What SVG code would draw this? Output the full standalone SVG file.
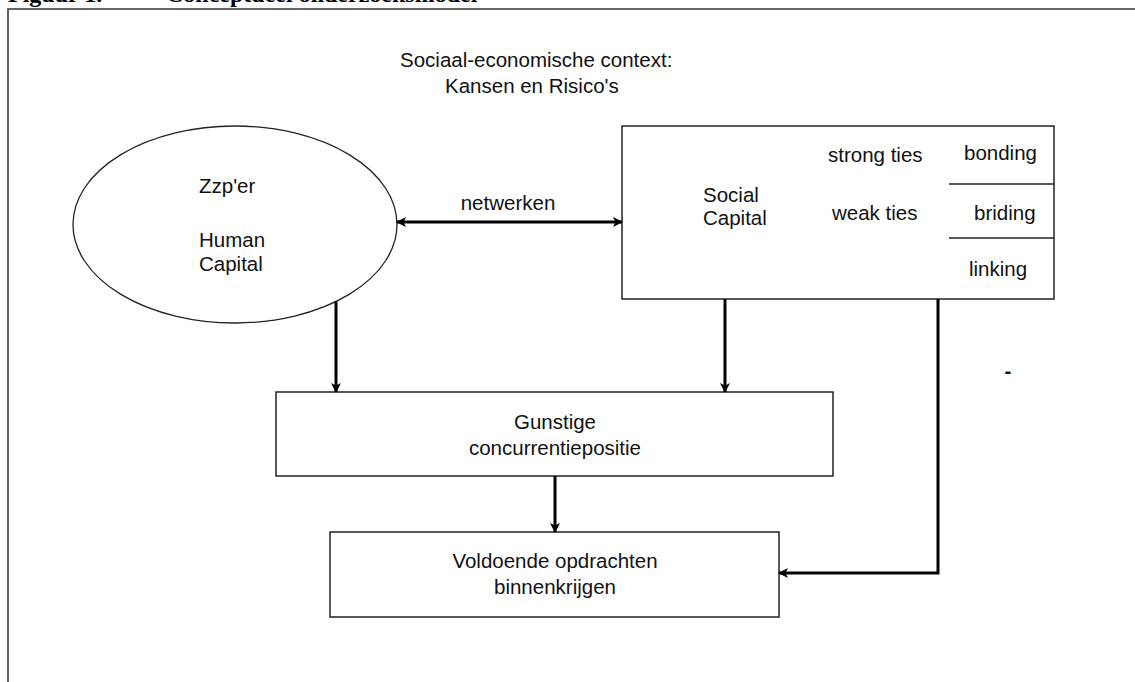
<svg xmlns="http://www.w3.org/2000/svg" width="1135" height="682" viewBox="0 0 1135 682">
<style>
.t{font-family:"Liberation Sans",Arial,sans-serif;font-size:20.5px;fill:#111}
.title{font-family:"Liberation Serif","Times New Roman",serif;font-size:24px;font-weight:bold;fill:#000}
.box{fill:#fff;stroke:#222;stroke-width:1.5}
.frame{fill:none;stroke:#333;stroke-width:1.5}
.con{fill:none;stroke:#000;stroke-width:3}
</style>
<defs>
<marker id="ah" viewBox="0 0 10 10" refX="9" refY="5" markerWidth="10" markerHeight="10" markerUnits="userSpaceOnUse" orient="auto-start-reverse">
<path d="M0,0 L10,5 L0,10 L2.5,5 z" fill="#000"/>
</marker>
</defs>
<rect width="1135" height="682" fill="#fff"/>
<text class="title" x="8" y="2">Figuur 1.<tspan x="166">Conceptueel onderzoeksmodel</tspan></text>
<path class="frame" d="M8,682 L8,9 L1135,9"/>
<g id="context">
<text class="t" x="400" y="67">Sociaal-economische context:</text>
<text class="t" x="445" y="93">Kansen en Risico's</text>
</g>
<g id="zzper">
<ellipse class="box" cx="235" cy="224.5" rx="162" ry="98.5" style="stroke-width:1.3"/>
<text class="t" x="199" y="193">Zzp'er</text>
<text class="t" x="199" y="247">Human</text>
<text class="t" x="199" y="271">Capital</text>
</g>
<g id="social">
<rect class="box" x="622" y="126" width="432" height="173"/>
<line x1="949" y1="184" x2="1054" y2="184" stroke="#222" stroke-width="1.5"/>
<line x1="949" y1="238" x2="1054" y2="238" stroke="#222" stroke-width="1.5"/>
<text class="t" x="703" y="202">Social</text>
<text class="t" x="703" y="225">Capital</text>
<text class="t" x="828" y="162">strong ties</text>
<text class="t" x="832" y="220">weak ties</text>
<text class="t" x="964" y="160">bonding</text>
<text class="t" x="974" y="220">briding</text>
<text class="t" x="969" y="276">linking</text>
</g>
<g id="gunstig">
<rect class="box" x="276" y="392" width="557" height="84"/>
<text class="t" x="555" y="429" text-anchor="middle">Gunstige</text>
<text class="t" x="555" y="455" text-anchor="middle">concurrentiepositie</text>
</g>
<g id="voldoende">
<rect class="box" x="330" y="532" width="449" height="85"/>
<text class="t" x="555" y="568" text-anchor="middle">Voldoende opdrachten</text>
<text class="t" x="555" y="594" text-anchor="middle">binnenkrijgen</text>
</g>
<g id="connectors">
<path class="con" d="M397,222 L622,222" marker-start="url(#ah)" marker-end="url(#ah)"/>
<text class="t" x="508" y="210" text-anchor="middle">netwerken</text>
<path class="con" d="M336,301 L336,392" marker-end="url(#ah)"/>
<path class="con" d="M725,299 L725,392" marker-end="url(#ah)"/>
<path class="con" d="M555,476 L555,532" marker-end="url(#ah)"/>
<path class="con" d="M938,299 L938,573 L779,573" marker-end="url(#ah)"/>
</g>
<text class="t" x="1008" y="378" text-anchor="middle" style="font-weight:bold">-</text>
</svg>
